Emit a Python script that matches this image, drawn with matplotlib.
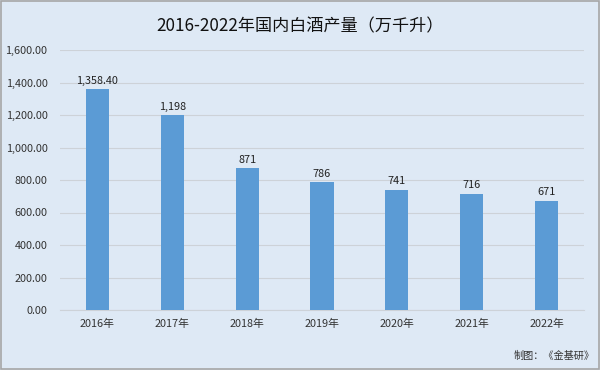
import matplotlib
matplotlib.use("Agg")
import matplotlib.pyplot as plt
from matplotlib.ticker import FuncFormatter
from matplotlib.patches import Rectangle

plt.rcParams['font.family'] = ['Noto Sans CJK SC', 'DejaVu Sans']

years = ["2016年", "2017年", "2018年", "2019年", "2020年", "2021年", "2022年"]
values = [1358.40, 1198, 871, 786, 741, 716, 671]
labels = ["1,358.40", "1,198", "871", "786", "741", "716", "671"]
yticks = [0, 200, 400, 600, 800, 1000, 1200, 1400, 1600]

bg = "#dee9f5"
fig = plt.figure(figsize=(6, 3.7), dpi=100, facecolor=bg)
ax = fig.add_axes([60/600, 1-310/370, 524/600, 260/370])
ax.set_facecolor(bg)

x = list(range(len(years)))
ax.bar(x, values, width=0.31, color="#5b9bd5", zorder=3)
for xi, v, lab in zip(x, values, labels):
    ax.text(xi, v + 22, lab, ha="center", va="bottom", fontsize=7.8, color="#222222")

ax.set_xlim(-0.5, len(years) - 0.5)
ax.set_ylim(0, 1600)
ax.set_yticks(yticks)
ax.yaxis.set_major_formatter(FuncFormatter(lambda v, p: f"{v:,.2f}"))
ax.set_xticks(x)
ax.set_xticklabels(years)
ax.tick_params(axis="both", length=0, labelsize=7.8, colors="#333333")
ax.tick_params(axis="y", pad=9)
ax.tick_params(axis="x", pad=6)
ax.grid(axis="y", color="#cdd2d8", linewidth=0.8, zorder=0)
for s in ["top", "right", "left"]:
    ax.spines[s].set_visible(False)
ax.spines["bottom"].set_color("#cdd2d8")

fig.text(0.5, 1-26/370, "2016-2022年国内白酒产量（万千升）", ha="center", va="center",
         fontsize=12.3, color="#111111")
fig.text(595/600, 1-356/370, "制图：《金基研》", ha="right", va="center", fontsize=7.3, color="#333333")

fig.patches.append(Rectangle((0.001, 0.002), 0.997, 0.996, transform=fig.transFigure,
                             fill=False, edgecolor="#a6a6a6", linewidth=1.2))

fig.savefig("out.png", dpi=100, facecolor=bg)
